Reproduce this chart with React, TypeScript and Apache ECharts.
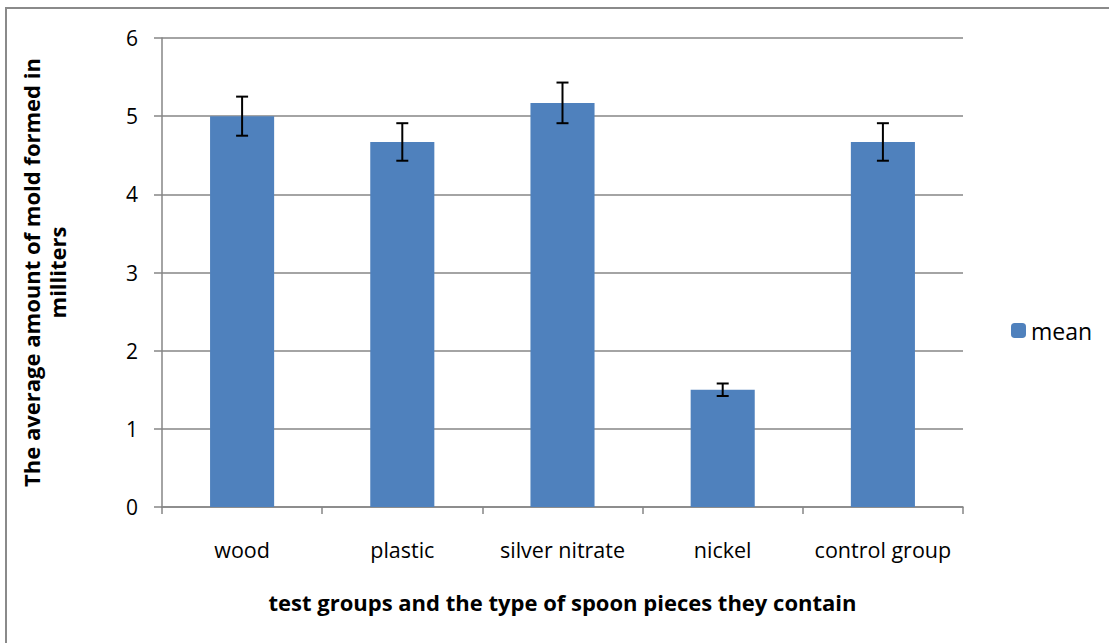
import React, { useEffect, useRef } from "react";
import * as echarts from "echarts";

const categories = ["wood", "plastic", "silver nitrate", "nickel", "control group"];
const means = [5.0, 4.67, 5.17, 1.5, 4.67];
const errors = [0.25, 0.24, 0.26, 0.08, 0.24];
const yTicks = { min: 0, max: 6, interval: 1 };

const FONT = "'Open Sans', sans-serif";

export default function App() {
  const ref = useRef<HTMLDivElement>(null);
  useEffect(() => {
    if (!ref.current) return;
    const chart = echarts.init(ref.current, undefined, { renderer: "svg" });
    const errData = means.map((m, i) => [i, m - errors[i], m + errors[i]]);
    chart.setOption({
      animation: false,
      backgroundColor: "#fff",
      textStyle: { fontFamily: FONT },
      graphic: [
        {
          type: "rect",
          shape: { x: 6, y: 8, width: 1200, height: 700 },
          style: { fill: "none", stroke: "#8a8a8a", lineWidth: 2 },
          silent: true,
        },
      ],
      grid: { left: 162, right: 146, top: 38, bottom: 136 },
      legend: {
        data: ["mean"],
        orient: "vertical",
        left: 1006,
        top: 314,
        itemWidth: 15,
        itemHeight: 15,
        itemGap: 6,
        textStyle: { fontFamily: FONT, fontSize: 23, color: "#000" },
      },
      xAxis: {
        type: "category",
        data: categories,
        axisLine: { lineStyle: { color: "#868686", width: 1.5 } },
        axisTick: { show: true, length: 7, alignWithLabel: false, lineStyle: { color: "#868686", width: 1.5 } },
        axisLabel: { color: "#000", fontSize: 21.5, fontFamily: FONT, margin: 31, interval: 0 },
        name: "test groups and the type of spoon pieces they contain",
        nameLocation: "middle",
        nameGap: 84,
        nameTextStyle: { color: "#000", fontSize: 22, fontWeight: "bold", fontFamily: FONT },
      },
      yAxis: {
        type: "value",
        min: yTicks.min,
        max: yTicks.max,
        interval: yTicks.interval,
        axisLine: { show: true, lineStyle: { color: "#868686", width: 1.5 } },
        axisTick: { show: true, length: 8, lineStyle: { color: "#868686", width: 1.5 } },
        splitLine: { lineStyle: { color: "#868686", width: 1.5 } },
        axisLabel: { color: "#000", fontSize: 21, fontFamily: FONT, margin: 24 },
        name: "The average amount of mold formed in\nmilliters",
        nameLocation: "middle",
        nameRotate: 90,
        nameGap: 92,
        nameTextStyle: { color: "#000", fontSize: 22, fontWeight: "bold", fontFamily: FONT, lineHeight: 26 },
      },
      series: [
        {
          name: "mean",
          type: "bar",
          data: means,
          barWidth: "40%",
          itemStyle: { color: "#4F81BD" },
        },
        {
          name: "error",
          type: "custom",
          data: errData,
          z: 10,
          renderItem: (params: any, api: any) => {
            const x = api.value(0);
            const lo = api.coord([x, api.value(1)]);
            const hi = api.coord([x, api.value(2)]);
            const hw = 6;
            const st = { stroke: "#000", lineWidth: 2 };
            return {
              type: "group",
              children: [
                { type: "line", shape: { x1: lo[0], y1: lo[1], x2: hi[0], y2: hi[1] }, style: st },
                { type: "line", shape: { x1: lo[0] - hw, y1: lo[1], x2: lo[0] + hw, y2: lo[1] }, style: st },
                { type: "line", shape: { x1: hi[0] - hw, y1: hi[1], x2: hi[0] + hw, y2: hi[1] }, style: st },
              ],
            };
          },
        },
      ],
    });
    return () => chart.dispose();
  }, []);
  return (
    <div
      ref={ref}
      style={{ position: "fixed", left: 0, top: 0, width: 1109, height: 643 }}
    />
  );
}
